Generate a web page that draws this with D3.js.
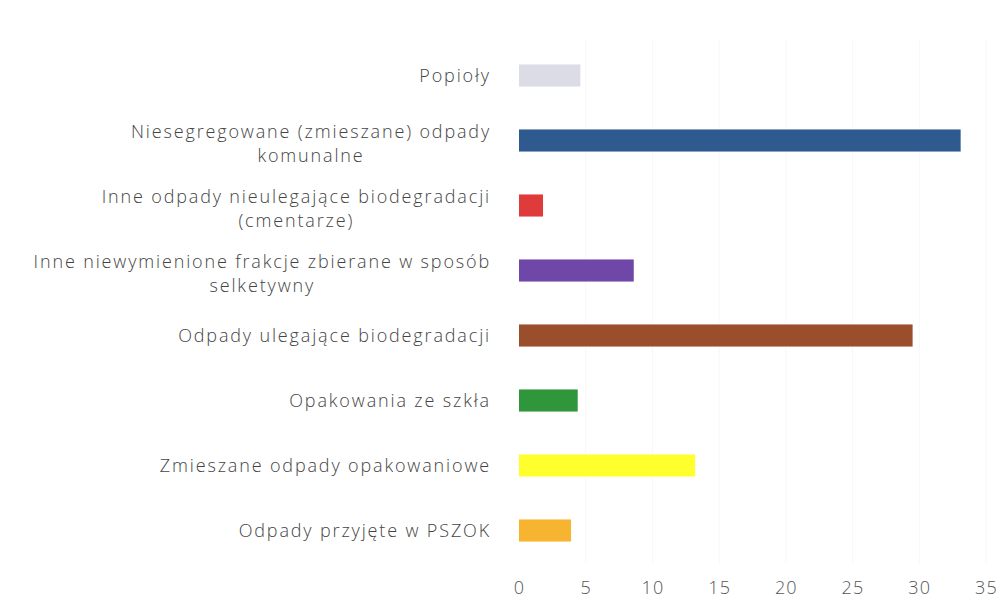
<!DOCTYPE html>
<html><head><meta charset="utf-8">
<script src="https://cdn.jsdelivr.net/npm/d3@7"></script>
<style>body{margin:0;background:#fff;}svg{display:block;}</style>
</head><body>
<svg id="chart" width="1000" height="600"></svg>
<script>
const categories = [
  ["Popioły"],
  ["Niesegregowane (zmieszane) odpady", "komunalne"],
  ["Inne odpady nieulegające biodegradacji", "(cmentarze)"],
  ["Inne niewymienione frakcje zbierane w sposób", "selketywny"],
  ["Odpady ulegające biodegradacji"],
  ["Opakowania ze szkła"],
  ["Zmieszane odpady opakowaniowe"],
  ["Odpady przyjęte w PSZOK"]
];
const values = [4.6, 33.1, 1.8, 8.6, 29.5, 4.4, 13.2, 3.9];
const colors = ["#dcdce6", "#2f5a8f", "#e03b3b", "#6f47a8", "#9a4e2c", "#2f963c", "#ffff2e", "#f7b430"];
const ticks = [0, 5, 10, 15, 20, 25, 30, 35];

const svg = d3.select("#chart");
const x = d3.scaleLinear().domain([0, 35]).range([519, 986]);
const y = d3.scaleBand().domain(d3.range(categories.length)).range([43, 563]).paddingInner(0.66).paddingOuter(0.33);

// very faint gridlines
svg.append("g").selectAll("line").data(ticks.slice(1)).join("line")
  .attr("x1", d => x(d)).attr("x2", d => x(d))
  .attr("y1", 40).attr("y2", 565)
  .attr("stroke", "#f8f8fa").attr("stroke-width", 1);

svg.append("g").selectAll("rect").data(values).join("rect")
  .attr("x", x(0))
  .attr("y", (d, i) => y(i))
  .attr("width", d => x(d) - x(0))
  .attr("height", y.bandwidth())
  .attr("fill", (d, i) => colors[i]);

const xAxis = d3.axisBottom(x).tickValues(ticks).tickSize(0).tickPadding(0);
const gx = svg.append("g").attr("transform", "translate(0,581)").call(xAxis);
gx.select(".domain").remove();
gx.selectAll("text")
  .attr("font-family", "'Open Sans', Lato, sans-serif")
  .attr("font-weight", 300)
  .attr("font-size", 18)
  .attr("fill", "#555")
  .attr("letter-spacing", "1.2px");

const lineH = 24;
const lab = svg.append("g");
categories.forEach((lines, i) => {
  const cy = y(i) + y.bandwidth() / 2 + (lines.length > 1 ? 3 : 0);
  const t = lab.append("text")
    .attr("text-anchor", "middle")
    .attr("font-family", "'Open Sans', Lato, sans-serif")
    .attr("font-weight", 300)
    .attr("font-size", 18)
    .attr("fill", "#444")
    .attr("letter-spacing", "1.85px");
  lines.forEach((ln, j) => {
    t.append("tspan")
      .attr("x", 0)
      .attr("y", cy + (j - (lines.length - 1) / 2) * lineH)
      .attr("dy", "0.35em")
      .text(ln);
  });
  const bb = t.node().getBBox();
  t.attr("transform", `translate(${491 - bb.width / 2},0)`);
});
</script>
</body></html>
